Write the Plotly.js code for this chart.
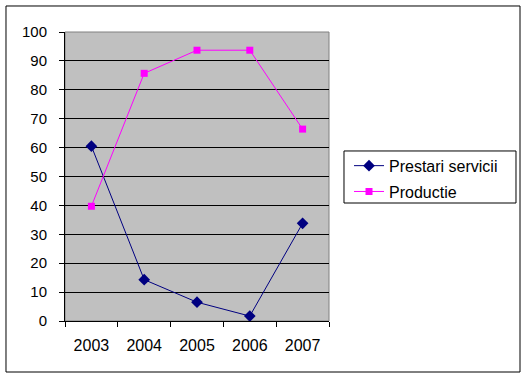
<!DOCTYPE html>
<html><head><meta charset="utf-8">
<script src="https://cdn.plot.ly/plotly-3.0.1.min.js"></script>
<style>html,body{margin:0;padding:0;background:#fff}#chart{width:529px;height:379px}</style>
</head><body><div id="chart"></div>
<script>
var years = ["2003","2004","2005","2006","2007"];
var prestariServicii = [60.5, 14.3, 6.5, 1.7, 33.8];
var productie = [39.7, 85.7, 93.7, 93.7, 66.4];
var yTicks = [0,10,20,30,40,50,60,70,80,90,100];

var fam = "Liberation Sans, Arial, sans-serif";
var traces = [
  {x: years, y: prestariServicii, name: "Prestari servicii", type: "scatter", mode: "lines+markers",
   line: {color: "#000080", width: 1}, marker: {symbol: "diamond", size: 9, color: "#000080"},
   legendgroup: "a"},
  {x: years, y: productie, name: "Productie", type: "scatter", mode: "lines+markers",
   line: {color: "#FF00FF", width: 1}, marker: {symbol: "square", size: 7, color: "#FF00FF"},
   legendgroup: "b"}
];
var layout = {
  width: 529, height: 379,
  margin: {l: 65, r: 200, t: 32, b: 58},
  paper_bgcolor: "#fff", plot_bgcolor: "#C0C0C0",
  font: {family: fam, size: 15, color: "#000"},
  showlegend: true,
  legend: {x: 1.0758, y: 0.596, xanchor: "left", yanchor: "top", borderwidth: 0,
           bgcolor: "rgba(0,0,0,0)", font: {family: fam, size: 16, color: "#000"},
           traceorder: "grouped", tracegroupgap: 2},
  xaxis: {type: "category", range: [-0.5, 4.5], tickson: "boundaries", ticks: "outside", ticklen: 5,
          tickcolor: "#000", showline: true, linecolor: "#000", linewidth: 1, showgrid: false,
          ticklabelstandoff: 10, tickfont: {family: fam, size: 16, color: "#000"}, fixedrange: true},
  yaxis: {range: [0, 100], tickvals: yTicks, ticks: "outside", ticklen: 5, tickcolor: "#000",
          showline: true, linecolor: "#000", linewidth: 1, gridcolor: "#000", gridwidth: 1,
          zeroline: false, ticklabelstandoff: 9, fixedrange: true},
  shapes: [
    {type: "rect", xref: "paper", yref: "paper", x0: -0.2235, x1: 1.7235, y0: -0.1765, y1: 1.09,
     line: {color: "#000", width: 1}, fillcolor: "rgba(0,0,0,0)", layer: "below"},
    {type: "rect", xref: "paper", yref: "paper", x0: 0, x1: 1, y0: 0, y1: 1,
     line: {color: "#808080", width: 1}, fillcolor: "rgba(0,0,0,0)", layer: "below"},
    {type: "rect", xref: "paper", yref: "paper", x0: 1.0568, x1: 1.7083, y0: 0.4083, y1: 0.5883,
     line: {color: "#000", width: 1}, fillcolor: "rgba(0,0,0,0)", layer: "below"}
  ]
};
Plotly.newPlot("chart", traces, layout, {displayModeBar: false, staticPlot: true});
</script></body></html>
